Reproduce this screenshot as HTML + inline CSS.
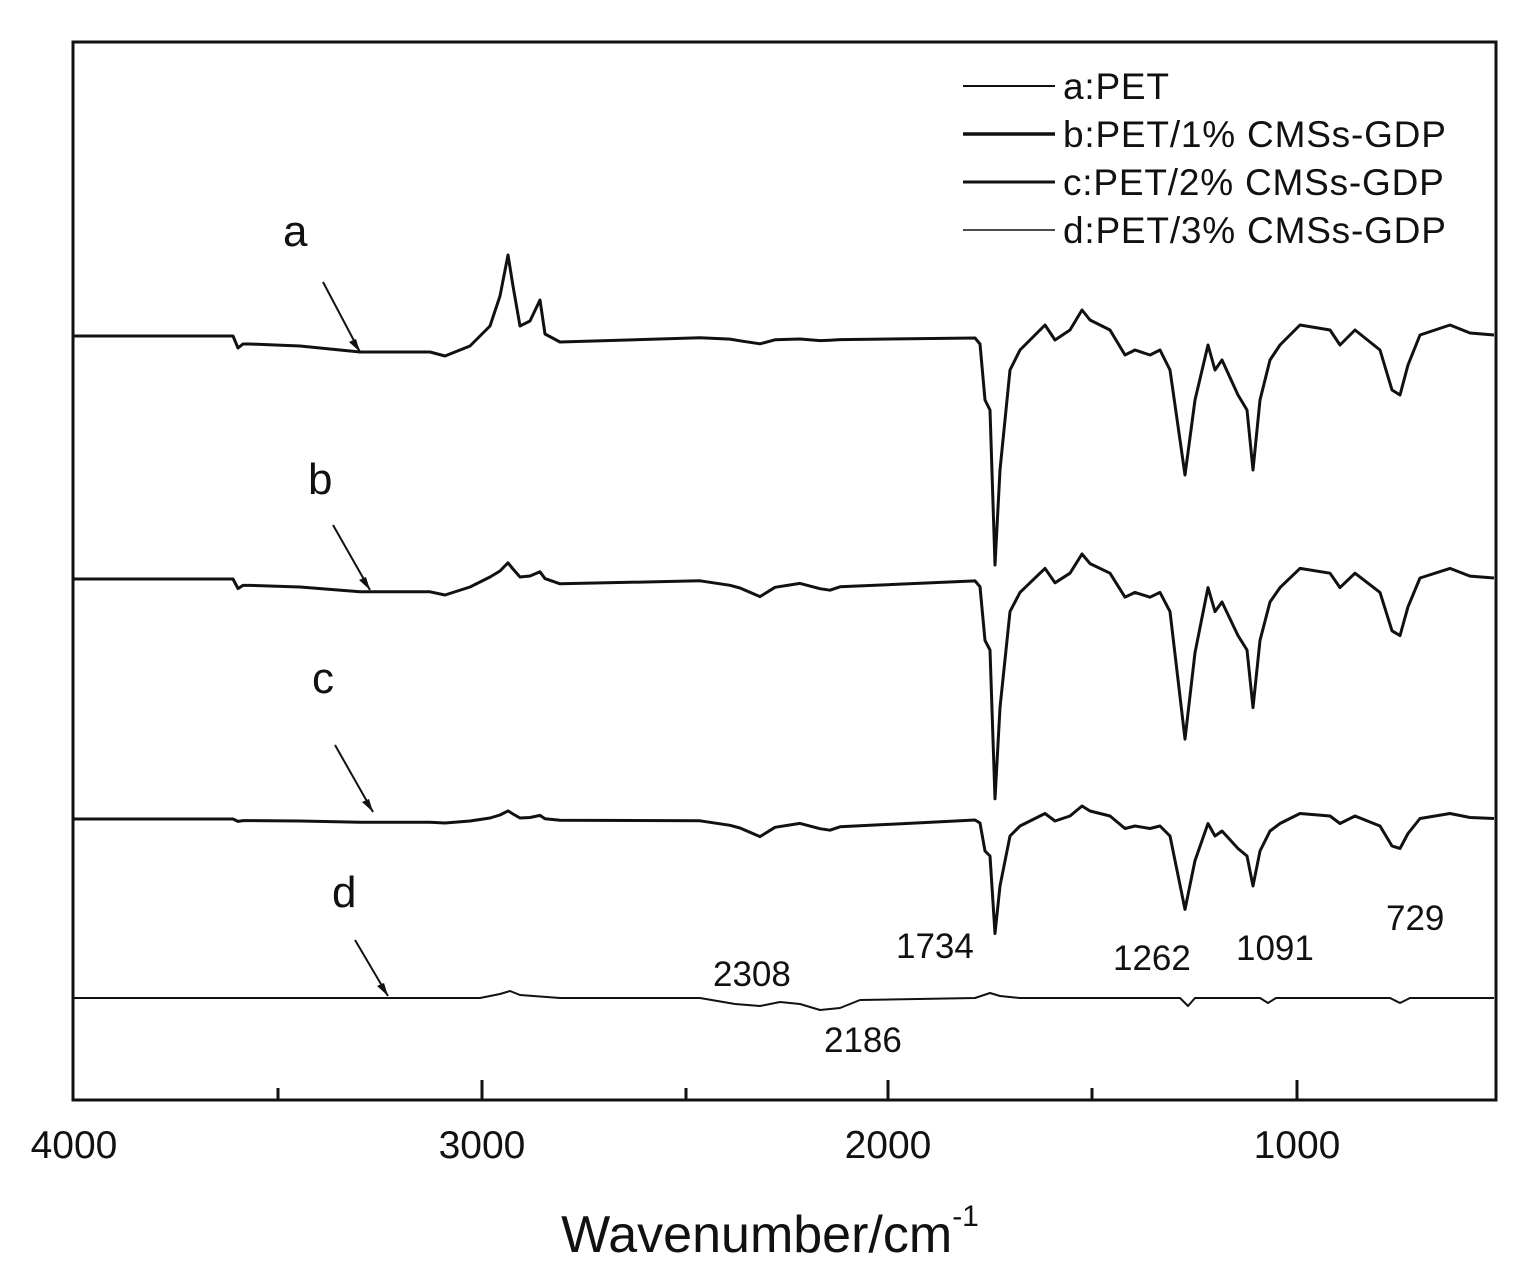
<!DOCTYPE html><html><head><meta charset="utf-8"><style>body{margin:0;background:#fff}svg{display:block}text{font-family:"Liberation Sans",sans-serif;fill:#111}</style></head><body>
<svg id="s" width="1525" height="1279" xmlns="http://www.w3.org/2000/svg">
<rect x="73" y="42" width="1423" height="1058" fill="none" stroke="#111" stroke-width="3"/>
<g stroke="#111" stroke-width="3">
<line x1="73" y1="1100" x2="73" y2="1080"/><line x1="278" y1="1100" x2="278" y2="1088"/><line x1="482" y1="1100" x2="482" y2="1080"/><line x1="686" y1="1100" x2="686" y2="1088"/><line x1="888" y1="1100" x2="888" y2="1080"/><line x1="1092" y1="1100" x2="1092" y2="1088"/><line x1="1297" y1="1100" x2="1297" y2="1080"/>
</g>
<g font-size="39" text-anchor="middle"><text x="74" y="1158">4000</text><text x="482" y="1158">3000</text><text x="888" y="1158">2000</text><text x="1297" y="1158">1000</text></g>
<text x="770" y="1252" font-size="52" text-anchor="middle">Wavenumber/cm<tspan font-size="30" dy="-26">-1</tspan></text>
<g stroke="#111"><line x1="963" y1="86" x2="1055" y2="86" stroke-width="2"/><line x1="963" y1="134" x2="1055" y2="134" stroke-width="3.5"/><line x1="963" y1="182" x2="1055" y2="182" stroke-width="3"/><line x1="963" y1="230" x2="1055" y2="230" stroke-width="1.5"/></g>
<g font-size="37" letter-spacing="0.8"><text x="1063" y="99">a:PET</text><text x="1063" y="147">b:PET/1% CMSs-GDP</text><text x="1063" y="195">c:PET/2% CMSs-GDP</text><text x="1063" y="243">d:PET/3% CMSs-GDP</text></g>
<g font-size="44"><text x="283" y="246">a</text><text x="308" y="494">b</text><text x="312" y="693">c</text><text x="332" y="907">d</text></g>
<g stroke="#111" stroke-width="2"><line x1="323" y1="282" x2="360" y2="352"/><line x1="333" y1="525" x2="370" y2="590"/><line x1="335" y1="745" x2="373" y2="812"/><line x1="355" y1="940" x2="388" y2="996"/></g>
<g fill="#111"><path d="M360 352 l-11 -10 l7 -3z"/><path d="M370 590 l-11 -10 l7 -3z"/><path d="M373 812 l-11 -10 l7 -3z"/><path d="M388 996 l-11 -10 l7 -3z"/></g>
<g font-size="35"><text x="896" y="958">1734</text><text x="1113" y="970">1262</text><text x="1236" y="960">1091</text><text x="1386" y="930">729</text><text x="713" y="986">2308</text><text x="824" y="1052">2186</text></g>
<g id="c" fill="none" stroke="#111" stroke-width="3" stroke-linejoin="round"></g>
</svg>
<script>
var T=[[73,0],[233,0],[238,12],[243,8],[250,8],[300,10],[360,16],[430,16],[445,20],[470,10],[490,-10],[500,-40],[508,-81],[513,-50],[520,-10],[530,-15],[540,-36],[545,-2],[560,6],[700,6],[730,6],[740,10],[760,12],[775,6],[800,8],[820,8],[830,4],[840,6],[975,2],[980,8],[985,64],[990,74],[995,229],[1000,134],[1010,34],[1020,14],[1030,4],[1040,-6],[1045,-11],[1055,4],[1070,-6],[1082,-26],[1090,-16],[1110,-6],[1125,19],[1135,14],[1150,19],[1160,14],[1170,34],[1185,139],[1195,64],[1208,9],[1215,34],[1222,24],[1238,59],[1247,74],[1253,134],[1260,64],[1270,24],[1280,9],[1300,-11],[1330,-6],[1340,9],[1355,-6],[1380,14],[1392,54],[1400,59],[1408,29],[1420,-1],[1450,-11],[1470,-3],[1494,-1]];
var W=[[700,0],[740,6],[760,14],[780,4],[800,2],[830,10],[850,2],[870,12],[900,4]];
function mk(base,ch,fp,wig,lo,k62){var p=[];T.forEach(function(t){var x=t[0],y=t[1];if(x<600)y=(x>470&&x<560)?y*ch:y*lo;else if(x<975){var w=0;W.forEach(function(q,i){if(i&&x>=W[i-1][0]&&x<=q[0]){var f=(x-W[i-1][0])/(q[0]-W[i-1][0]);w=W[i-1][1]+f*(q[1]-W[i-1][1]);}});y=y*0.3+w*wig;}else{y=y*fp;if(x>1175&&x<1200)y*=k62;}p.push(x+","+(base+y).toFixed(1));});
return '<polyline points="'+p.join(" ")+'"/>';}
var h=mk(336,1,1,0.3,1,1)+mk(579,0.2,0.96,1,0.8,1.2)+mk(819,0.1,0.5,1,0.2,1.3);
var d=[[73,998],[480,998],[500,994],[510,991],[520,995],[560,998],[700,998],[735,1004],[760,1006],[780,1002],[800,1004],[820,1010],[840,1008],[860,1000],[975,998],[990,993],[1000,996],[1020,998],[1180,998],[1188,1006],[1195,998],[1260,998],[1268,1003],[1276,998],[1390,998],[1400,1003],[1410,998],[1494,998]];
h+='<polyline stroke-width="2" points="'+d.map(function(q){return q.join(",")}).join(" ")+'"/>';
document.getElementById("c").innerHTML=h;
</script>
</body></html>
